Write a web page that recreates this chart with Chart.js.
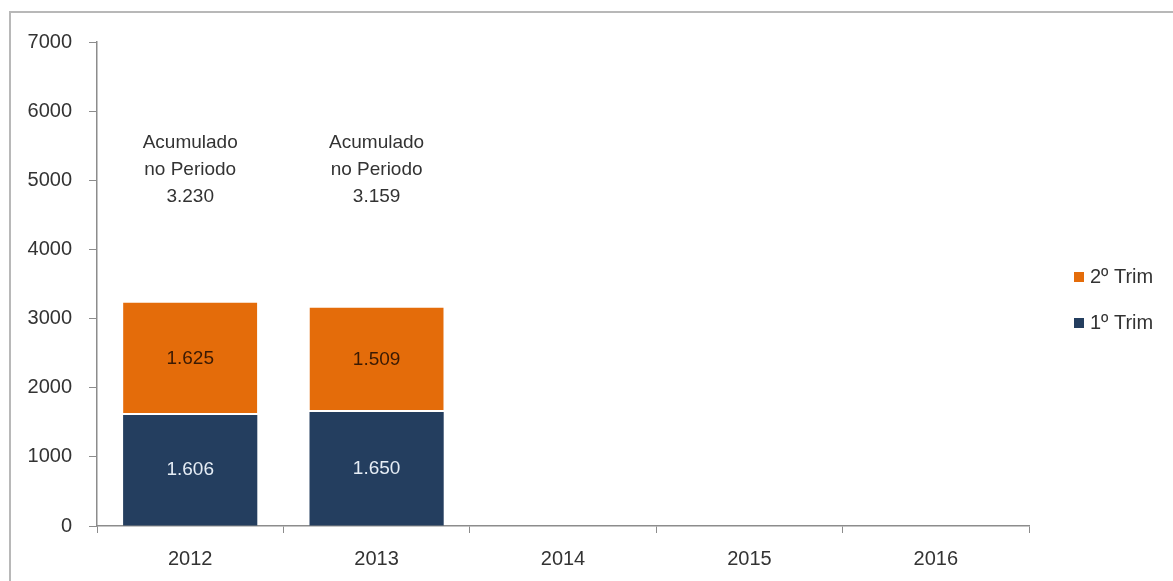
<!DOCTYPE html>
<html>
<head>
<meta charset="utf-8">
<script src="https://cdn.jsdelivr.net/npm/chart.js@4/dist/chart.umd.min.js"></script>
<style>
  html, body { margin: 0; padding: 0; background: #fff; overflow: hidden; }
  .frame { position: absolute; left: 9px; top: 11px; width: 1200px; height: 600px;
           border-left: 2px solid #b8b8b8; border-top: 2px solid #b8b8b8; }
  #chart { position: absolute; left: 0; top: 0; }
</style>
</head>
<body>
<div class="frame"></div>
<canvas id="chart" width="1173" height="581"></canvas>
<script>
const YEARS = ['2012', '2013', '2014', '2015', '2016'];
const TRIM1 = [1606, 1650, null, null, null];
const TRIM2 = [1625, 1509, null, null, null];
const TOTALS = [3230, 3159, null, null, null];
const Y_MAX = 7000;
const Y_STEP = 1000;

const FONT = '"Liberation Sans Narrow", "Liberation Sans", Arial, sans-serif';
const ORANGE = '#E46C0A';
const NAVY = '#243E5F';

// 1606 -> "1.606"
const fmt = v => String(v).replace(/\B(?=(\d{3})+(?!\d))/g, '.');

// values inside the bars + "Acumulado no Periodo" above them
const barLabels = {
  id: 'barLabels',
  afterDatasetsDraw(chart) {
    const ctx = chart.ctx;
    ctx.save();
    ctx.textAlign = 'center';
    ctx.textBaseline = 'middle';
    ctx.font = '19px ' + FONT;
    chart.data.datasets.forEach((ds, i) => {
      const meta = chart.getDatasetMeta(i);
      meta.data.forEach((bar, j) => {
        if (ds.data[j] == null) return;
        ctx.fillStyle = ds.labelColor;
        ctx.fillText(fmt(ds.data[j]), bar.x, (bar.y + bar.base) / 2);
      });
    });
    const y = chart.scales.y;
    const top = y.getPixelForValue(5540);
    ctx.fillStyle = '#333';
    ctx.font = '19px ' + FONT;
    const meta = chart.getDatasetMeta(0);
    TOTALS.forEach((t, j) => {
      if (t == null) return;
      const x = meta.data[j].x;
      ctx.fillText('Acumulado', x, top);
      ctx.fillText('no Periodo', x, top + 27);
      ctx.fillText(fmt(t), x, top + 54);
    });
    ctx.restore();
  }
};

// legend on the right, 2º Trim on top
const sideLegend = {
  id: 'sideLegend',
  afterDraw(chart) {
    const ctx = chart.ctx;
    ctx.save();
    ctx.font = '20px ' + FONT;
    ctx.textBaseline = 'middle';
    ctx.textAlign = 'left';
    const items = chart.data.datasets.slice().reverse();
    items.forEach((ds, i) => {
      const cy = 277 + i * 46;
      ctx.fillStyle = ds.backgroundColor;
      ctx.fillRect(1074, cy - 5, 10, 10);
      ctx.fillStyle = '#333';
      ctx.fillText(ds.label, 1090, cy);
    });
    ctx.restore();
  }
};

new Chart(document.getElementById('chart'), {
  type: 'bar',
  data: {
    labels: YEARS,
    datasets: [
      { label: '1º Trim', data: TRIM1, backgroundColor: NAVY, labelColor: '#e6edf5',
        barPercentage: 0.72, categoryPercentage: 1 },
      { label: '2º Trim', data: TRIM2, backgroundColor: ORANGE, labelColor: '#3a1a04',
        borderColor: '#fff', borderWidth: { top: 0, left: 0, right: 0, bottom: 2 }, borderSkipped: false,
        barPercentage: 0.72, categoryPercentage: 1 }
    ]
  },
  options: {
    responsive: false,
    animation: false,
    layout: { padding: { left: 0, top: 42, right: 144, bottom: 0 } },
    plugins: { legend: { display: false }, tooltip: { enabled: false } },
    scales: {
      x: {
        stacked: true,
        grid: { drawOnChartArea: false, drawTicks: true, tickLength: 7, color: '#8c8c8c', offset: true },
        border: { color: '#8c8c8c', width: 1.5 },
        ticks: { color: '#333', font: { family: FONT, size: 20 }, padding: 14 },
        afterFit(s) { s.height = 55; }
      },
      y: {
        stacked: true,
        min: 0, max: Y_MAX,
        grid: { drawOnChartArea: false, drawTicks: true, tickLength: 8, color: '#8c8c8c' },
        border: { color: '#8c8c8c', width: 1.5 },
        ticks: { stepSize: Y_STEP, color: '#333', font: { family: FONT, size: 20 }, padding: 17,
                 callback: v => String(v) },
        afterFit(s) { s.width = 97; }
      }
    }
  },
  plugins: [barLabels, sideLegend]
});
</script>
</body>
</html>
